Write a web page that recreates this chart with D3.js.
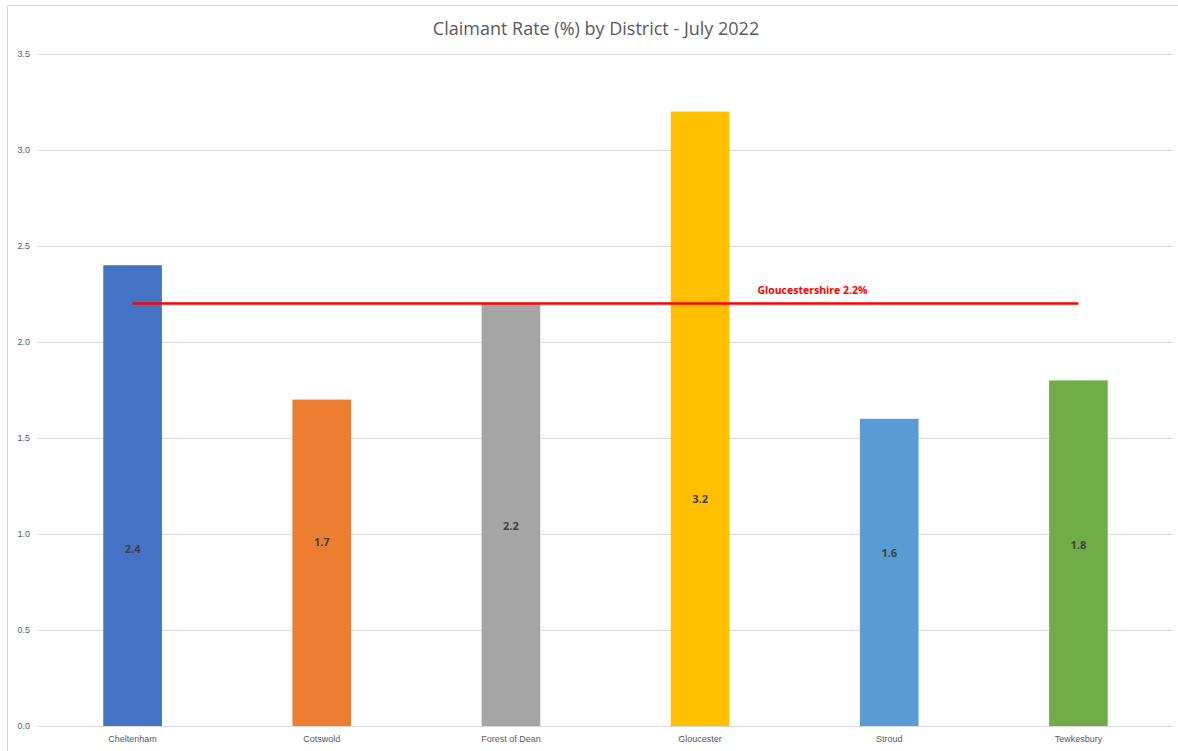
<!DOCTYPE html>
<html>
<head>
<meta charset="utf-8">
<script src="https://cdn.jsdelivr.net/npm/d3@7"></script>
<style>
  body { margin: 0; background: #fff; }
  svg { display: block; font-family: "Open Sans", sans-serif; }
</style>
</head>
<body>
<div class="chart"></div>
<script>
// data
var districts = ["Cheltenham", "Cotswold", "Forest of Dean", "Gloucester", "Stroud", "Tewkesbury"];
var rates = [2.4, 1.7, 2.2, 3.2, 1.6, 1.8];
var barColours = ["#4472C4", "#ED7D31", "#A5A5A5", "#FFC000", "#5B9BD5", "#70AD47"];
var countyRate = 2.2;
var countyName = "Gloucestershire";
var yTicks = [0, 0.5, 1.0, 1.5, 2.0, 2.5, 3.0, 3.5];
// where the (hand placed) value labels sit, in axis units
var labelAt = [0.92, 0.96, 1.04, 1.18, 0.90, 0.94];

var width = 1178,
    height = 751,
    margin = {top: 54, right: 5, bottom: 25, left: 38};

var svg = d3.select(".chart").append("svg")
    .attr("width", width)
    .attr("height", height);

// chart border
svg.append("rect")
    .attr("x", 7.5).attr("y", 5.5)
    .attr("width", width).attr("height", height)
    .attr("fill", "none")
    .attr("stroke", "#d9d9d9");

var x = d3.scaleBand()
    .domain(districts)
    .range([margin.left, width - margin.right])
    .paddingInner(0.69)
    .paddingOuter(0.345);

var y = d3.scaleLinear()
    .domain([0, 3.5])
    .range([height - margin.bottom, margin.top]);

// gridlines + y labels
var yAxis = svg.append("g")
    .attr("transform", "translate(" + margin.left + ",0)")
    .call(d3.axisLeft(y)
        .tickValues(yTicks)
        .tickFormat(d3.format(".1f"))
        .tickSize(-(width - margin.left - margin.right))
        .tickPadding(8));
yAxis.select(".domain").remove();
yAxis.selectAll(".tick line").attr("stroke", "#d9d9d9");
yAxis.selectAll(".tick text")
    .attr("fill", "#595959")
    .attr("font-size", "9px");

// x labels
var xAxis = svg.append("g")
    .attr("transform", "translate(0," + y(0) + ")")
    .call(d3.axisBottom(x).tickSize(0).tickPadding(10));
xAxis.select(".domain").remove();
xAxis.selectAll(".tick text")
    .attr("fill", "#595959")
    .attr("font-size", "9px");

// bars
svg.append("g").selectAll("rect")
    .data(rates)
    .enter()
    .append("rect")
    .attr("x", function(d, i) { return x(districts[i]); })
    .attr("y", function(d) { return y(d); })
    .attr("width", x.bandwidth())
    .attr("height", function(d) { return y(0) - y(d); })
    .attr("fill", function(d, i) { return barColours[i]; });

// value labels
svg.append("g").selectAll("text")
    .data(rates)
    .enter()
    .append("text")
    .attr("x", function(d, i) { return x(districts[i]) + x.bandwidth() / 2; })
    .attr("y", function(d, i) { return y(labelAt[i]); })
    .attr("dy", "0.35em")
    .attr("text-anchor", "middle")
    .attr("font-size", "11px")
    .attr("font-weight", "bold")
    .attr("fill", "#404040")
    .text(function(d) { return d.toFixed(1); });

// county average line
var first = districts[0], last = districts[districts.length - 1];
svg.append("line")
    .attr("x1", x(first) + x.bandwidth() / 2)
    .attr("x2", x(last) + x.bandwidth() / 2)
    .attr("y1", y(countyRate))
    .attr("y2", y(countyRate))
    .attr("stroke", "#ff0000")
    .attr("stroke-width", 2.5);

svg.append("text")
    .attr("x", x("Gloucester") + x.bandwidth() + 28)
    .attr("y", y(countyRate) - 10)
    .attr("font-size", "10.5px")
    .attr("font-weight", "bold")
    .attr("fill", "#ff0000")
    .text(countyName + " " + countyRate + "%");

// title
svg.append("text")
    .attr("x", 596)
    .attr("y", 35)
    .attr("text-anchor", "middle")
    .attr("font-size", "18px")
    .attr("fill", "#595959")
    .text("Claimant Rate (%) by District - July 2022");
</script>
</body>
</html>
